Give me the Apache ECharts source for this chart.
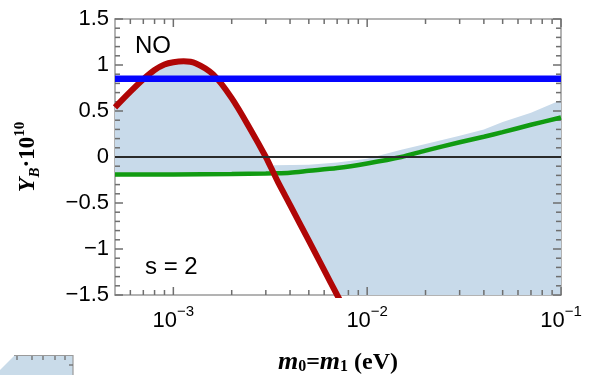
<!DOCTYPE html>
<html>
<head>
<meta charset="utf-8">
<script src="https://cdn.jsdelivr.net/npm/echarts@6/dist/echarts.min.js"></script>
<style>
  html, body { margin: 0; padding: 0; background: #fff; }
  #chart { width: 593px; height: 375px; }
</style>
</head>
<body>
<div id="chart"></div>
<script>
// 数据
const xMin = 5e-4, xMax = 0.1, yMin = -1.5, yMax = 1.5;

const redX = [5e-4, 6e-4, 7e-4, 8e-4, 9e-4, 1e-3, 1.13e-3, 1.3e-3, 1.6e-3, 2e-3, 2.5e-3, 3e-3, 3.3e-3, 3.5e-3, 4e-3, 5e-3, 6e-3, 7e-3, 8e-3];
const redY = [0.54, 0.71, 0.845, 0.945, 1.005, 1.03, 1.04, 1.02, 0.90, 0.64, 0.30, 0.0, -0.18, -0.29, -0.52, -0.91, -1.23, -1.5, -1.73];

const greenX = [5e-4, 1e-3, 2e-3, 3e-3, 3.3e-3, 4e-3, 5e-3, 7e-3, 1e-2, 1.5e-2, 2e-2, 3e-2, 4e-2, 5e-2, 7e-2, 1e-1];
const greenY = [-0.19, -0.19, -0.185, -0.18, -0.178, -0.17, -0.15, -0.12, -0.07, 0.0, 0.07, 0.16, 0.22, 0.27, 0.35, 0.43];

// 阴影区上边缘 (红线右侧)
const edgeX = [3.3e-3, 5e-3, 7e-3, 1e-2, 1.5e-2, 2e-2, 3e-2, 4e-2, 5e-2, 7e-2, 1e-1];
const edgeY = [-0.09, -0.085, -0.06, -0.02, 0.08, 0.14, 0.23, 0.30, 0.38, 0.48, 0.62];

const blueY = 0.85;
const crossX = 3.3e-3;

// 刻度
const xMajor = [1e-3, 1e-2, 1e-1];
const xMinor = [6e-4, 7e-4, 8e-4, 9e-4, 2e-3, 3e-3, 4e-3, 5e-3, 6e-3, 7e-3, 8e-3, 9e-3,
  2e-2, 3e-2, 4e-2, 5e-2, 6e-2, 7e-2, 8e-2, 9e-2];
const yMajor = [-1.5, -1, -0.5, 0, 0.5, 1, 1.5];
const yMinor = [];
for (let i = 0; i < yMajor.length - 1; i++) {
  for (let k = 1; k < 5; k++) yMinor.push(yMajor[i] + k * 0.1);
}

const zip = (xs, ys) => xs.map((x, i) => [x, ys[i]]);

const gray = '#9a9a9a';
const tickColor = '#6e6e6e';

const frameX = (pos, extra) => Object.assign({
  type: 'log', logBase: 10, min: xMin, max: xMax, position: pos,
  axisLine: { show: true, onZero: false, lineStyle: { color: gray, width: 1.5 } },
  axisTick: { show: false }, axisLabel: { show: false }, splitLine: { show: false }
}, extra || {});
const frameY = (pos, extra) => Object.assign({
  type: 'value', min: yMin, max: yMax, interval: 0.5, position: pos,
  axisLine: { show: true, onZero: false, lineStyle: { color: gray, width: 1.5 } },
  axisTick: { show: false }, axisLabel: { show: false }, splitLine: { show: false }
}, extra || {});

// 向内的刻度线
const renderTicks = (params, api) => {
  const children = [];
  const seg = (a, b) => children.push({
    type: 'line', shape: { x1: a[0], y1: a[1], x2: b[0], y2: b[1] },
    style: { stroke: tickColor, lineWidth: 1.5 }
  });
  const xt = (vals, len) => vals.forEach(v => {
    const b = api.coord([v, yMin]), t = api.coord([v, yMax]);
    seg(b, [b[0], b[1] - len]);
    seg(t, [t[0], t[1] + len]);
  });
  const yt = (vals, len) => vals.forEach(v => {
    const l = api.coord([xMin, v]), r = api.coord([xMax, v]);
    seg(l, [l[0] + len, l[1]]);
    seg(r, [r[0] - len, r[1]]);
  });
  xt(xMajor, 8); xt(xMinor, 5);
  yt(yMajor, 8); yt(yMinor, 5);
  return { type: 'group', children };
};

const chart = echarts.init(document.getElementById('chart'));

const option = {
  animation: false,
  grid: { left: 115, top: 19, right: 32, bottom: 80, outerBoundsMode: 'none' },
  xAxis: [
    frameX('bottom', {
      axisLabel: {
        show: true, customValues: xMajor, margin: 9,
        formatter: v => {
          const e = Math.round(Math.log10(v));
          return '{b|10}{s|' + (e < 0 ? '\u2212' : '') + Math.abs(e) + '}';
        },
        rich: {
          b: { fontSize: 22, fontFamily: 'Liberation Sans', color: '#000', lineHeight: 28, verticalAlign: 'bottom' },
          s: { fontSize: 15, fontFamily: 'Liberation Sans', color: '#000', lineHeight: 14, verticalAlign: 'top' }
        }
      },
      name: '{m|m}{sub|0}{t|=}{m|m}{sub|1}{t| (eV)}',
      nameLocation: 'middle', nameGap: 50, nameMoveOverlap: false,
      nameTextStyle: {
        rich: {
          m: { fontFamily: 'Liberation Serif', fontSize: 26, fontWeight: 'bold', fontStyle: 'italic', color: '#000', lineHeight: 30, verticalAlign: 'bottom' },
          sub: { fontFamily: 'Liberation Serif', fontSize: 16, fontWeight: 'bold', color: '#000', lineHeight: 18, verticalAlign: 'bottom' },
          t: { fontFamily: 'Liberation Serif', fontSize: 24, fontWeight: 'bold', color: '#000', lineHeight: 30, verticalAlign: 'bottom' }
        }
      }
    }),
    frameX('top')
  ],
  yAxis: [
    frameY('left', {
      axisLabel: {
        show: true, margin: 6, color: '#000', fontSize: 22, fontFamily: 'Liberation Sans',
        formatter: v => (v < 0 ? '\u2212' : '') + Math.abs(v)
      },
      name: '{y|Y}{sub|B}{t|\u00b710}{sup|10}',
      nameLocation: 'middle', nameGap: 72, nameRotate: 90, nameMoveOverlap: false,
      nameTextStyle: {
        rich: {
          y: { fontFamily: 'Liberation Serif', fontSize: 24, fontWeight: 'bold', fontStyle: 'italic', color: '#000', lineHeight: 30, verticalAlign: 'middle' },
          sub: { fontFamily: 'Liberation Serif', fontSize: 15, fontWeight: 'bold', fontStyle: 'italic', color: '#000', lineHeight: 14, verticalAlign: 'bottom' },
          t: { fontFamily: 'Liberation Serif', fontSize: 23, fontWeight: 'bold', color: '#000', lineHeight: 30, verticalAlign: 'middle' },
          sup: { fontFamily: 'Liberation Serif', fontSize: 15, fontWeight: 'bold', color: '#000', lineHeight: 14, verticalAlign: 'top' }
        }
      }
    }),
    frameY('right')
  ],
  graphic: [
    { type: 'text', left: 135, top: 34, style: { text: 'NO', fontSize: 24, fontFamily: 'Liberation Sans', fill: '#000' } },
    { type: 'text', left: 145, top: 255, style: { text: 's = 2', fontSize: 24, fontFamily: 'Liberation Sans', fill: '#000' } },
    // 左下角残留的相邻图片
    { type: 'polygon', shape: { points: [[0, 370], [14, 356], [73, 356], [73, 375], [0, 375]] }, style: { fill: '#c9dbe9' } },
    { type: 'polyline', shape: { points: [[14, 355.5], [73, 355.5], [73, 375]] }, style: { stroke: gray, lineWidth: 1.2, fill: null } },
    { type: 'polyline', shape: { points: [[17, 356], [17, 360]] }, style: { stroke: tickColor, lineWidth: 1.3, fill: null } },
    { type: 'polyline', shape: { points: [[32, 356], [32, 360]] }, style: { stroke: tickColor, lineWidth: 1.3, fill: null } },
    { type: 'polyline', shape: { points: [[43, 356], [43, 360]] }, style: { stroke: tickColor, lineWidth: 1.3, fill: null } },
    { type: 'polyline', shape: { points: [[55, 356], [55, 360]] }, style: { stroke: tickColor, lineWidth: 1.3, fill: null } },
    { type: 'polyline', shape: { points: [[65, 356], [65, 360]] }, style: { stroke: tickColor, lineWidth: 1.3, fill: null } },
    { type: 'polyline', shape: { points: [[69, 365], [73, 365]] }, style: { stroke: tickColor, lineWidth: 1.3, fill: null } }
  ],
  series: [
    {
      type: 'custom', z: 1, silent: true,
      xAxisIndex: 0, yAxisIndex: 0,
      data: [[xMin, 0]],
      renderItem: (params, api) => {
        const pts = [];
        redX.forEach((x, i) => pts.push(api.coord([x, redY[i]])));
        pts.push(api.coord([xMax, yMin]));
        for (let i = edgeX.length - 1; i >= 0; i--) pts.push(api.coord([edgeX[i], edgeY[i]]));
        for (let i = greenX.length - 1; i >= 0; i--) {
          if (greenX[i] <= crossX) pts.push(api.coord([greenX[i], greenY[i]]));
        }
        const cs = params.coordSys;
        const clipped = echarts.graphic.clipPointsByRect(pts, { x: cs.x, y: cs.y, width: cs.width, height: cs.height });
        return { type: 'polygon', shape: { points: clipped }, style: { fill: '#c8daea' } };
      }
    },
    {
      type: 'custom', z: 2, silent: true, clip: false,
      xAxisIndex: 0, yAxisIndex: 0,
      data: [[xMin, 0]],
      renderItem: renderTicks
    },
    {
      type: 'line', z: 4, data: zip(greenX, greenY), smooth: 0.3, showSymbol: false,
      lineStyle: { color: '#119b11', width: 4.5 }
    },
    {
      type: 'line', z: 5, data: zip(redX, redY), smooth: 0.3, showSymbol: false,
      lineStyle: { color: '#b00606', width: 6 }
    },
    {
      type: 'line', z: 6, data: [[xMin, 0], [xMax, 0]], showSymbol: false,
      lineStyle: { color: '#2a2a2a', width: 2 }
    },
    {
      type: 'line', z: 7, data: [[xMin, blueY], [xMax, blueY]], showSymbol: false,
      lineStyle: { color: '#0505ff', width: 6.5 }
    }
  ]
};

chart.setOption(option);
</script>
</body>
</html>
